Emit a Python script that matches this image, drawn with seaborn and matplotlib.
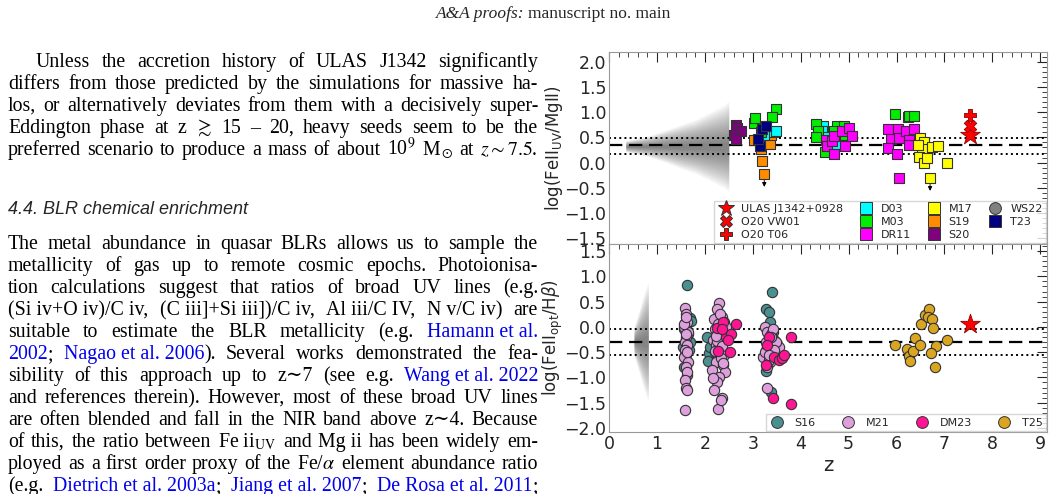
import numpy as np
import matplotlib
matplotlib.use("Agg")
import matplotlib.pyplot as plt
import seaborn as sns
from matplotlib.lines import Line2D

sns.set_style("white")
plt.rcParams['font.family'] = ['DejaVu Sans']
plt.rcParams['mathtext.fontset'] = 'dejavusans'

# ---------------- data: top panel (FeII_UV / MgII) ----------------
s20_z = [2.64, 2.68, 2.75, 2.60, 2.66]
s20_y = [0.75, 0.68, 0.62, 0.55, 0.47]
s19_z = [3.03, 3.17, 3.24, 3.18, 3.35, 3.38, 3.20]
s19_y = [0.44, 0.46, 0.41, 0.27, 0.36, 0.55, 0.03]
s19_lim_z = [3.24]
s19_lim_y = [-0.22]
t23_z = [3.15, 3.20, 3.27, 3.10]
t23_y = [0.32, 0.67, 0.73, 0.47]
d03_z = [3.42, 3.49, 3.24, 4.47, 4.44, 4.72, 4.50]
d03_y = [0.60, 0.62, 0.55, 0.73, 0.63, 0.37, 0.50]
m03_z = [3.03, 3.04, 3.49, 3.40, 3.18, 4.33, 4.37, 4.33, 4.50, 4.75, 4.70, 4.92, 4.90,
         5.97, 6.23, 6.25, 6.37]
m03_y = [0.79, 0.88, 1.06, 0.90, 0.60, 0.77, 0.62, 0.50, 0.22, 0.73, 0.63, 0.55, 0.72,
         0.96, 0.91, 0.93, 0.92]
dr11_z = [4.52, 4.54, 4.65, 4.69, 4.70, 4.87, 4.92, 5.01, 5.07, 5.83, 5.88, 5.83, 6.00,
          6.03, 6.06, 6.06, 6.20, 6.27, 6.27, 6.37]
dr11_y = [0.44, 0.32, 0.43, 0.52, 0.17, 0.63, 0.32, 0.69, 0.52, 0.67, 0.46, 0.29, 0.17,
          0.67, 0.49, -0.30, 0.63, 0.45, 0.34, 0.66]
m17_z = [6.48, 6.57, 6.54, 6.46, 6.58, 6.63, 6.75, 6.87, 7.06, 6.44]
m17_y = [0.48, 0.40, 0.27, 0.12, 0.00, 0.10, 0.30, 0.32, 0.00, 0.34]
m17_lim_z = [6.70]
m17_lim_y = [-0.30]
ulas_z = [7.54]
ulas_top = [0.54]
vw01_top = [0.73]
t06_top = [0.94]
top_mean, top_lo, top_hi = 0.34, 0.17, 0.49

# grey low-z cloud (WS22), described by its envelope
cloud_top_z = [0.35, 0.6, 0.9, 1.2, 1.5, 1.8, 2.0, 2.2, 2.4, 2.5]
cloud_top_lo = [0.28, 0.26, 0.23, 0.19, 0.14, 0.10, 0.06, 0.02, -0.02, -0.05]
cloud_top_hi = [0.37, 0.39, 0.42, 0.46, 0.50, 0.54, 0.58, 0.62, 0.66, 0.70]

# ---------------- data: bottom panel (FeII_opt / Hbeta) ----------------
s16_z = [1.63, 1.58, 1.55, 1.60, 1.68, 1.72, 1.56, 1.62, 1.57, 1.66, 1.59, 1.70, 1.61, 1.64,
         2.05, 2.08, 2.06, 2.10, 3.27, 3.33, 3.40, 3.35, 3.30, 3.28, 3.38, 3.42, 3.37]
s16_y = [0.82, 0.07, -0.40, -0.25, 0.17, 0.12, -0.80, -0.95, -0.05, -0.45, -0.55, -0.30, 0.00, -0.15,
         -0.20, -0.52, -0.68, -0.40, 0.36, 0.30, 0.70, 0.10, -0.35, -0.88, -1.28, -0.10, -0.55]
m21_z = [1.58, 1.60, 1.62, 1.57, 1.65, 1.60, 1.58, 1.63, 1.59, 1.61, 1.56, 1.64, 1.60, 1.62,
         1.58, 1.60, 1.63, 1.59, 1.61, 1.57, 1.62, 1.60,
         2.30, 2.25, 2.35, 2.20, 2.40, 2.28, 2.33, 2.22, 2.38, 2.26, 2.31, 2.18, 2.36, 2.24,
         2.29, 2.34, 2.21, 2.39, 2.27, 2.32, 2.23, 2.37, 2.15, 2.42, 2.30, 2.25, 2.35, 2.20,
         2.28, 2.33, 2.31, 2.26, 2.36, 2.22, 2.29, 2.34, 2.24, 2.38, 2.17, 2.44,
         3.25, 3.30, 3.35, 3.28, 3.40, 3.32, 3.22, 3.45, 3.38, 3.27, 3.50, 3.36, 3.31, 3.55,
         3.29, 3.42, 3.34, 3.48, 3.26, 3.39, 3.30, 3.44, 3.33]
m21_y = [0.37, 0.25, 0.10, 0.00, -0.10, -0.20, -0.30, -0.35, -0.45, -0.55, -0.60, -0.70, -0.80,
         -0.90, -1.05, -1.20, -1.25, -1.65, -0.15, 0.05, -0.50, 0.20,
         0.48, 0.35, 0.20, 0.15, 0.10, 0.05, 0.00, -0.05, -0.10, -0.15, -0.20, -0.25, -0.30,
         -0.35, -0.40, -0.45, -0.50, -0.55, -0.60, -0.65, -0.70, -0.75, -0.85, -0.90, -1.00,
         -1.10, -1.40, -1.25, -1.62, -1.45, 0.25, -0.28, -0.38, -0.48, -0.08, -0.62, -0.18,
         -0.72, -1.02, 0.00,
         0.00, -0.10, -0.20, -0.30, -0.40, -0.50, -0.60, -0.25, -0.15, -0.45, -0.55, -0.70,
         -0.35, -0.40, -1.20, -0.05, -0.65, -0.30, -0.50, -0.20, -0.80, -0.45, -0.55]
dm23_z = [2.25, 2.38, 2.45, 2.55, 2.65, 2.52, 2.28, 2.35, 2.48, 3.33, 3.30, 3.45, 3.55, 3.62,
          3.65, 3.80, 3.28, 3.42, 3.80]
dm23_y = [-0.02, 0.10, -0.20, -0.15, 0.05, -0.50, -0.47, -0.05, -0.25, -0.20, -0.35, -0.60,
          -0.65, -0.62, -0.55, -0.20, -0.75, -1.40, -1.52]
t25_z = [5.96, 6.21, 6.27, 6.35, 6.28, 6.39, 6.51, 6.49, 6.60, 6.67, 6.65, 6.75, 6.76, 6.82,
         6.71, 6.80, 7.06]
t25_y = [-0.35, -0.43, -0.58, -0.48, -0.67, -0.22, 0.05, -0.35, 0.24, 0.35, 0.20, 0.16, -0.03,
         -0.38, -0.52, -0.79, -0.25]
ulas_bot = [0.05]
bot_mean, bot_lo, bot_hi = -0.29, -0.56, -0.04

cloud_bot_z = [0.52, 0.58, 0.64, 0.70, 0.76, 0.82]
cloud_bot_lo = [-0.40, -0.48, -0.56, -0.64, -0.72, -0.78]
cloud_bot_hi = [-0.18, -0.10, -0.02, 0.06, 0.14, 0.20]

# ---------------- page text ----------------
BLUE = '#0000ee'
para1 = [
    "Unless the accretion history of ULAS J1342 significantly",
    "differs from those predicted by the simulations for massive ha-",
    "los, or alternatively deviates from them with a decisively super-",
    "Eddington phase at z $\\gtrsim$ 15 – 20, heavy seeds seem to be the",
    "preferred scenario to produce a mass of about 10$^9$ M$_\\odot$ at $z\\sim7.5$.",
]
para2 = [
    "The metal abundance in quasar BLRs allows us to sample the",
    "metallicity of gas up to remote cosmic epochs. Photoionisa-",
    "tion calculations suggest that ratios of broad UV lines (e.g.",
    "(Si\u00a0iv+O\u00a0iv)/C\u00a0iv, (C\u00a0iii]+Si\u00a0iii])/C\u00a0iv, Al\u00a0iii/C\u00a0IV, N\u00a0v/C\u00a0iv) are",
    "suitable to estimate the BLR metallicity (e.g. «Hamann\u00a0et\u00a0al.»",
    "«2002»; «Nagao\u00a0et\u00a0al.\u00a02006»). Several works demonstrated the fea-",
    "sibility of this approach up to z∼7 (see e.g. «Wang\u00a0et\u00a0al.\u00a02022»",
    "and references therein). However, most of these broad UV lines",
    "are often blended and fall in the NIR band above z∼4. Because",
    "of this, the ratio between Fe\u00a0ii$_\\mathrm{UV}$ and Mg\u00a0ii has been widely em-",
    "ployed as a first order proxy of the Fe/$\\alpha$ element abundance ratio",
    "(e.g. «Dietrich\u00a0et\u00a0al.\u00a02003a»; «Jiang\u00a0et\u00a0al.\u00a02007»; «De\u00a0Rosa\u00a0et\u00a0al.\u00a02011»;",
]

W, H = 1054, 494
fig = plt.figure(figsize=(W / 100, H / 100), dpi=100)
renderer = fig.canvas.get_renderer()
SERIF = ['Liberation Serif', 'DejaVu Serif']
FS = 14.3

def justify(line, x0, x1, ytop, fs=FS):
    arts = []
    for w in line.split(' '):
        segs = []
        cur, blue = '', False
        for ch in w:
            if ch in '«»':
                if cur:
                    segs.append((cur, blue))
                cur, blue = '', ch == '«'
            else:
                cur += ch
        if cur:
            segs.append((cur, blue))
        word = []
        for s, b in segs:
            t = fig.text(0, 1 - ytop / H, s, fontsize=fs, family=SERIF, math_fontfamily='stix',
                         color=BLUE if b else 'black', va='baseline')
            word.append((t, t.get_window_extent(renderer).width))
        arts.append(word)
    widths = [sum(wd for _, wd in word) for word in arts]
    gap = ((x1 - x0) - sum(widths)) / max(len(arts) - 1, 1)
    x = x0
    for word, wd in zip(arts, widths):
        xx = x
        for t, w in word:
            t.set_x(xx / W)
            xx += w
        x += wd + gap

t1 = fig.text(436 / W, 1 - 18 / H, "A&A proofs:", fontsize=12.5, family=SERIF,
              style='italic', va='baseline')
w1 = t1.get_window_extent(renderer).width
fig.text((436 + w1 + 4) / W, 1 - 18 / H, "manuscript no. main", fontsize=12.5, family=SERIF,
         va='baseline')

ys1 = [67, 89, 111, 133, 155]
for i, (l, y) in enumerate(zip(para1, ys1)):
    justify(l, 36 if i == 0 else 8, 538, y)
fig.text(8 / W, 1 - 214 / H, "4.4. BLR chemical enrichment", fontsize=13,
         style='italic', family='Liberation Sans', va='baseline')
for i, l in enumerate(para2):
    justify(l, 8, 538, 249 + 22 * i)

# ---------------- axes ----------------
ax1 = fig.add_axes([609 / W, 1 - 244 / H, (1047 - 609) / W, (244 - 52) / H])
ax2 = fig.add_axes([609 / W, 1 - 432 / H, (1047 - 609) / W, (432 - 244) / H], sharex=ax1)

for k in range(14):
    sc = 2.4 - 0.165 * k
    lo = np.array(cloud_top_lo); hi = np.array(cloud_top_hi); mid = (lo + hi) / 2
    ax1.fill_between(cloud_top_z, mid - (mid - lo) * sc, mid + (hi - mid) * sc,
                     color='k', alpha=0.045, lw=0)
    lo = np.array(cloud_bot_lo); hi = np.array(cloud_bot_hi); mid = (lo + hi) / 2
    ax2.fill_between(cloud_bot_z, mid - (mid - lo) * sc, mid + (hi - mid) * sc,
                     color='k', alpha=0.045, lw=0)

sq = dict(marker='s', s=55, edgecolor='#333333', linewidth=0.8, zorder=3)
for zz, yy, c in [(s20_z, s20_y, 'purple'), (s19_z, s19_y, 'darkorange'),
                  (s19_lim_z, s19_lim_y, 'darkorange'),
                  (d03_z, d03_y, 'cyan'), (m03_z, m03_y, '#00ee00'),
                  (dr11_z, dr11_y, 'magenta'), (m17_z, m17_y, 'yellow'),
                  (m17_lim_z, m17_lim_y, 'yellow'), (t23_z, t23_y, 'navy')]:
    sns.scatterplot(x=zz, y=yy, color=c, ax=ax1, **sq)
for zz, yy in [(s19_lim_z, s19_lim_y), (m17_lim_z, m17_lim_y)]:
    ax1.annotate('', xy=(zz[0], yy[0] - 0.32), xytext=(zz[0], yy[0] - 0.08),
                 arrowprops=dict(arrowstyle='-|>', color='k', lw=0.7, mutation_scale=6))
sns.scatterplot(x=ulas_z, y=ulas_top, marker='*', s=220, color='red', edgecolor='darkred', linewidth=0.6, ax=ax1, zorder=4)
sns.scatterplot(x=ulas_z, y=vw01_top, marker='X', s=80, color='red', edgecolor='darkred', linewidth=0.6, ax=ax1, zorder=4)
sns.scatterplot(x=ulas_z, y=t06_top, marker='P', s=80, color='red', edgecolor='darkred', linewidth=0.6, ax=ax1, zorder=4)
ax1.axhline(top_mean, color='k', ls=(0, (6, 3)), lw=1.6)
ax1.axhline(top_lo, color='k', ls=':', lw=1.4)
ax1.axhline(top_hi, color='k', ls=':', lw=1.4)

circ = dict(marker='o', s=55, edgecolor='#333333', linewidth=0.8, zorder=3)
for zz, yy, c in [(s16_z, s16_y, '#4a9090'), (m21_z, m21_y, 'plum'),
                  (dm23_z, dm23_y, '#ff1493'), (t25_z, t25_y, 'goldenrod')]:
    sns.scatterplot(x=zz, y=yy, color=c, ax=ax2, **circ)
sns.scatterplot(x=ulas_z, y=ulas_bot, marker='*', s=220, color='red', edgecolor='darkred', linewidth=0.6, ax=ax2, zorder=4)
ax2.axhline(bot_mean, color='k', ls=(0, (6, 3)), lw=1.6)
ax2.axhline(bot_lo, color='k', ls=':', lw=1.4)
ax2.axhline(bot_hi, color='k', ls=':', lw=1.4)

ax1.set_xlim(0, 9.14)
ax1.set_ylim(-1.62, 2.2)
ax2.set_ylim(-2.08, 1.64)
ax1.set_yticks(np.arange(-1.5, 2.01, 0.5))
ax2.set_yticks(np.arange(-2.0, 1.51, 0.5))
ax2.set_xticks(range(10))
plt.setp(ax1.get_xticklabels(), visible=False)
for ax in (ax1, ax2):
    ax.minorticks_on()
    ax.tick_params(which='both', direction='in', top=True, right=True, labelsize=12.5, pad=2)
    ax.tick_params(which='major', length=7)
    ax.tick_params(which='minor', length=3.5)
    for s in ax.spines.values():
        s.set_color('#999999')
ax1.set_ylabel("log(FeII$_{\\rm UV}$/MgII)", fontsize=12)
ax2.set_ylabel("log(FeII$_{\\rm opt}$/H$\\beta$)", fontsize=12)
ax2.set_xlabel("z", fontsize=14, labelpad=2)
ax1.yaxis.set_label_coords(-0.1, 0.5)
ax2.yaxis.set_label_coords(-0.1, 0.5)

def h(m, c, ms=8.5):
    return Line2D([], [], marker=m, color=c, ls='', markersize=ms, markeredgecolor='#333333',
                  markeredgewidth=0.7)
hs1 = [h('*', 'red', 12), h('X', 'red'), h('P', 'red'),
       h('s', 'cyan'), h('s', '#00ee00'), h('s', 'magenta'),
       h('s', 'yellow'), h('s', 'darkorange'), h('s', 'purple'),
       h('o', 'grey'), h('s', 'navy'), Line2D([], [], ls='')]
ls1 = ['ULAS J1342+0928', 'O20 VW01', 'O20 T06', 'D03', 'M03', 'DR11', 'M17', 'S19', 'S20',
       'WS22', 'T23', '']
ax1.legend(hs1, ls1, ncol=4, loc='lower right', fontsize=8, frameon=True, fancybox=False,
           handletextpad=0.6, columnspacing=1.3, borderaxespad=0.1, labelspacing=0.25,
           handlelength=1.5, borderpad=0.3)
hs2 = [h('o', '#4a9090'), h('o', 'plum'), h('o', '#ff1493'), h('o', 'goldenrod')]
ax2.legend(hs2, ['S16', 'M21', 'DM23', 'T25'], ncol=4, loc='lower right', fontsize=8,
           frameon=True, fancybox=False, columnspacing=2.2, borderaxespad=0.1,
           handletextpad=0.8, handlelength=1.5, borderpad=0.3)

fig.savefig("out.png", dpi=100)
